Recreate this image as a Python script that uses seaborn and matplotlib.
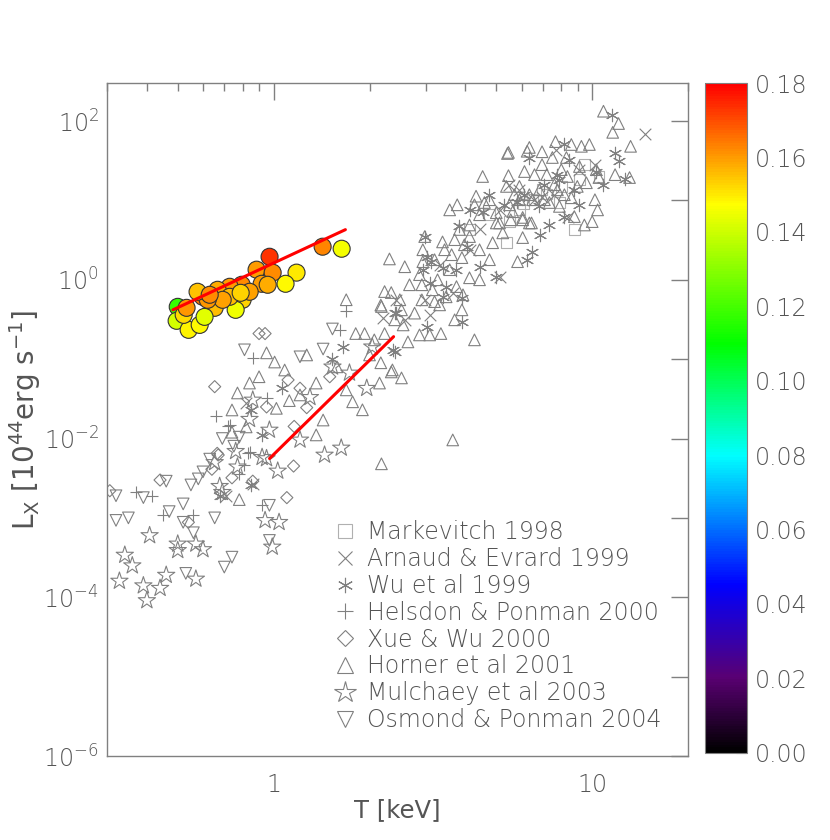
import numpy as np
import seaborn as sns
import matplotlib as mpl
from matplotlib import pyplot as plt
from matplotlib.colors import LinearSegmentedColormap, Normalize
from matplotlib.lines import Line2D

# ---- data (T in keV, Lx in 1e44 erg/s) ----
t_markevitch = [9.45, 9.12, 8.0, 7.89, 5.5, 5.38, 6.5, 6.96, 10.5, 5.91, 4.76, 4.12, 8.79, 7.2, 6.1]
l_markevitch = [28.2, 18.2, 15.0, 9.4, 5.4, 2.93, 10.2, 13.6, 20.0, 7.6, 6.6, 4.3, 4.3, 12.0, 9.0]

t_arnaud = [14.6, 8.4, 5.12, 6.96, 7.7, 2.2, 0.82, 0.86, 2.43, 3.09, 3.65, 5.91, 6.59, 7.61, 5.12,
            4.43, 5.5, 9.12, 10.2, 4.12, 3.32, 2.98, 2.58, 0.71]
l_arnaud = [67.7, 6.1, 1.09, 11.1, 43.7, 0.33, 0.028, 0.0027, 0.56, 0.361, 0.685, 13.6, 10.2, 11.8, 7.6,
            4.3, 15.8, 24.4, 28.2, 2.39, 1.55, 0.56, 0.313, 0.0019]

t_wu = [2.98, 3.03, 2.94, 3.13, 3.39, 3.09, 3.39, 3.9, 3.9, 3.02, 2.4, 2.4, 5.0, 6.23, 6.49, 3.83, 4.12,
        4.53, 4.05, 4.43, 3.75, 3.48, 1.65, 2.37, 1.52, 1.06, 0.85, 2.43, 0.92, 11.5, 11.8, 12.1, 12.7,
        10.8, 8.18, 6.35, 8.48, 9.12, 7.3, 6.88, 8.18, 7.78, 10.3, 5.8, 6.83, 6.13, 7.08, 7.89, 5.3,
        4.76, 8.79, 0.85, 0.677]
l_wu = [3.5, 1.95, 1.34, 1.69, 1.42, 0.92, 0.61, 0.59, 0.295, 0.255, 0.38, 0.123, 1.09, 1.79, 2.26, 4.7,
        7.6, 7.2, 2.6, 1.46, 1.34, 0.82, 0.143, 0.131, 0.1, 0.043, 0.0229, 0.38, 0.0111, 118, 40, 31,
        18.8, 15.8, 52, 34.7, 32.7, 8.8, 4.9, 3.7, 6.1, 21.1, 23.1, 9.6, 8.4, 11.8, 15.8, 18.2, 8.8,
        11.8, 13.6, 0.0026, 0.0019]

t_helsdon = [0.415, 0.45, 0.56, 0.72, 0.84, 0.81, 0.92, 0.86, 1.69, 0.83, 0.73, 1.61, 0.37, 0.95,
             0.78, 0.66]
l_helsdon = [0.0019, 0.00108, 0.0011, 0.0142, 0.0068, 0.0047, 0.00144, 0.103, 0.40, 0.0066, 0.0148,
             0.234, 0.0021, 0.032, 0.0036, 0.019]

t_xue = [0.44, 0.54, 0.67, 0.64, 1.10, 1.16, 1.155, 0.306, 0.90, 0.94, 0.653, 1.11, 1.21, 1.27, 1.50,
         0.95, 0.665, 0.74, 0.86]
l_xue = [0.003, 0.00088, 0.0062, 0.0041, 0.0018, 0.0142, 0.0045, 0.0022, 0.21, 0.21, 0.045, 0.0547,
         0.043, 0.0245, 0.06, 0.025, 0.0065, 0.0032, 0.0029]

t_horner = [0.95, 0.84, 0.77, 1.007, 1.083, 1.27, 1.81, 1.93, 2.17, 2.23, 2.17, 1.90, 1.77, 2.15, 2.34,
            1.36, 1.21, 1.43, 1.36, 2.18, 0.74, 1.02, 1.58, 1.69, 3.65, 0.78, 0.74, 1.69,
            2.31, 2.58, 2.98, 2.94, 2.94, 2.92, 2.92, 2.77, 2.87, 3.09, 3.35, 2.64, 4.27, 2.23, 2.34,
            2.18, 2.52, 2.55, 2.36, 2.52, 3.39, 3.57, 3.77, 4.27, 4.59, 5.0, 5.0, 6.05, 6.45, 5.83,
            3.62, 3.9, 4.12, 4.43, 3.75, 3.48, 3.2, 3.9, 3.93, 3.15, 3.27, 4.12, 3.7, 4.43, 4.87,
            4.76, 5.12, 5.55, 5.24,
            10.85, 12.1, 11.6, 13.2, 11.8, 13.1, 7.67, 8.6, 9.25, 9.8, 6.35, 6.96, 5.46, 7.5, 8.3,
            6.13, 5.46, 6.59, 7.2, 10.3, 10.5, 10.2, 10.4, 10.0, 9.45, 8.79, 6.05, 5.63, 6.35, 6.05,
            5.38, 5.91, 6.83, 7.78, 8.98, 8.36, 9.12, 7.34, 6.5, 7.89, 8.6, 9.59, 6.96, 8.0,
            5.42, 4.53, 4.32, 6.25, 5.91, 5.7, 6.35, 7.08, 7.61, 8.18, 5.5, 4.76, 4.43, 4.12, 3.83,
            3.97, 3.44, 3.2, 3.57, 2.87, 2.67, 2.49, 2.4, 3.32, 3.7, 2.07, 2.0, 0.82, 0.9, 1.12]
l_horner = [0.12, 0.05, 0.0375, 0.092, 0.073, 0.113, 0.21, 0.21, 0.48, 0.21, 0.09, 0.023, 0.029, 0.05,
            0.069, 0.05, 0.0354, 0.0171, 0.0111, 0.0048, 0.0229, 0.024, 0.08, 0.041, 0.0096, 0.0017,
            0.012, 0.56,
            1.83, 1.46, 3.5, 2.39, 1.69, 0.865, 0.559, 0.38, 0.202, 0.202, 0.21, 0.165, 0.175, 0.71,
            0.69, 0.46, 0.418, 0.27, 0.0732, 0.058, 3.0, 7.6, 8.8, 8.8, 9.4, 7.0, 5.2, 5.7, 5.2, 1.69,
            2.07, 1.9, 1.06, 1.0, 0.82, 0.61, 0.53, 0.418, 0.647, 0.748, 1.0, 3.5, 3.2, 2.39, 2.93,
            1.79, 5.2, 5.7, 3.9,
            133, 93, 72, 48, 21.1, 19.4, 55, 50.6, 48, 50.6, 46.5, 41, 40.2, 34.7, 34.7,
            23.1, 20.5, 21.1, 21.1, 24.4, 19.4, 10.2, 7.6, 5.4, 4.9, 6.25, 6.1, 7.2, 5.2, 3.4,
            15.0, 15.0, 13.6, 13.6, 15.0, 20.0, 26.7, 9.4, 10.2, 8.4, 10.8, 16.7, 28.2, 24.4,
            39.0, 20.0, 11.3, 41.6, 10.2, 11.8, 11.8, 10.2, 15.8, 11.8, 8.8, 10.2, 6.6, 4.9, 4.3,
            2.76, 2.39, 1.79, 1.34, 1.16, 0.865, 0.56, 0.313, 0.483, 0.313, 0.175, 0.113, 0.014, 0.06,
            0.03]

t_mulchaey = [0.408, 0.341, 0.36, 0.328, 0.39, 0.40, 0.44, 0.46, 0.50, 0.50, 0.57, 0.60, 0.57, 0.653,
              0.77, 0.94, 1.04, 0.99, 1.03, 0.69, 0.95, 2.04, 1.53, 1.445, 1.63, 1.21, 0.92, 0.86,
              0.97, 0.677, 1.30, 1.73, 1.96, 0.84, 0.76]
l_mulchaey = [0.0006, 0.00034, 0.00025, 0.00016, 0.00014, 0.000091, 0.00013, 0.00019, 0.00047, 0.00039,
              0.00047, 0.0004, 0.00017, 0.005, 0.0044, 0.00093, 0.00088, 0.00043, 0.0039, 0.0021, 0.0056,
              0.143, 0.08, 0.0062, 0.0076, 0.0096, 0.0058, 0.0306, 0.0128, 0.0025, 0.033, 0.067, 0.043,
              0.0175, 0.0069]

t_osmond = [0.32, 0.32, 0.35, 0.39, 0.47, 0.52, 0.52, 0.653, 0.56, 0.53, 0.70, 0.74, 0.97, 0.97, 0.46,
            0.58, 0.60, 0.69, 0.75, 0.81, 1.53, 1.21, 1.43, 0.78, 0.55, 0.63]
l_osmond = [0.0019, 0.00093, 0.001, 0.0018, 0.0012, 0.0015, 0.00088, 0.001, 0.00065, 0.0002, 0.00024,
            0.00032, 0.00052, 0.00144, 0.0029, 0.0031, 0.0038, 0.010, 0.008, 0.131, 0.24, 0.107, 0.134,
            0.0104, 0.0026, 0.0055]

# coloured groups: T, Lx and colour value
t_groups = [0.971, 1.425, 1.635, 1.18, 1.09, 0.884, 0.993, 0.917, 0.958, 0.794, 0.728, 0.799, 0.760,
            0.599, 0.653, 0.500, 0.496, 0.541, 0.586, 0.607, 0.522, 0.533, 0.667, 0.728, 0.692, 0.621,
            0.577, 0.841, 0.63, 0.788]
l_groups = [1.95, 2.61, 2.46, 1.23, 0.89, 1.34, 1.23, 0.89, 0.865, 0.865, 0.816, 0.559, 0.418, 0.61,
            0.443, 0.456, 0.304, 0.234, 0.27, 0.341, 0.361, 0.443, 0.748, 0.61, 0.559, 0.559, 0.706,
            0.706, 0.647, 0.685]
z_groups = [0.173, 0.163, 0.146, 0.150, 0.148, 0.160, 0.162, 0.160, 0.158, 0.162, 0.160, 0.153, 0.145,
            0.165, 0.156, 0.118, 0.141, 0.149, 0.148, 0.143, 0.152, 0.161, 0.158, 0.156, 0.159, 0.161,
            0.155, 0.159, 0.162, 0.153]

# fitted relations (end points)
fit_groups_t = [0.483, 1.68]
fit_groups_l = [0.418, 4.28]
fit_clusters_t = [0.971, 2.38]
fit_clusters_l = [0.0056, 0.192]

gray = '#808080'
txt = '#555555'

cmap = LinearSegmentedColormap.from_list('idl_rainbow', [
    (0.0, (0, 0, 0)),
    (0.111, (0.35, 0.0, 0.45)),
    (0.25, (0.0, 0.0, 1.0)),
    (0.444, (0.0, 1.0, 1.0)),
    (0.611, (0.0, 1.0, 0.0)),
    (0.82, (1.0, 1.0, 0.0)),
    (1.0, (1.0, 0.0, 0.0)),
])
norm = Normalize(0, 0.18)

sns.set_style('white')
plt.rcParams['font.family'] = ['DejaVu Sans']
plt.rcParams['font.weight'] = 'light'
plt.rcParams['mathtext.default'] = 'regular'

fig = plt.figure(figsize=(8.3, 8.4), dpi=100)
ax = fig.add_axes([0.129, 0.1, 0.700, 0.801])
cax = fig.add_axes([0.849, 0.104, 0.0506, 0.797])

open_kw = dict(facecolor='none', edgecolor=gray, linewidth=0.8, ax=ax, legend=False)
line_kw = dict(color=gray, linewidth=0.8, ax=ax, legend=False)

sns.scatterplot(x=t_markevitch, y=l_markevitch, marker='s', s=60, **dict(open_kw, edgecolor='#b0b0b0'))
sns.scatterplot(x=t_arnaud, y=l_arnaud, marker='x', s=70, **line_kw)
sns.scatterplot(x=t_wu, y=l_wu, marker=(6, 2, 0), s=80, **line_kw)
sns.scatterplot(x=t_helsdon, y=l_helsdon, marker='+', s=80, **line_kw)
sns.scatterplot(x=t_xue, y=l_xue, marker='D', s=38, **open_kw)
sns.scatterplot(x=t_horner, y=l_horner, marker='^', s=70, **open_kw)
sns.scatterplot(x=t_mulchaey, y=l_mulchaey, marker='*', s=170, **open_kw)
sns.scatterplot(x=t_osmond, y=l_osmond, marker='v', s=70, **open_kw)

sns.scatterplot(x=t_groups, y=l_groups, hue=z_groups, palette=cmap, hue_norm=norm, s=150,
                edgecolor='#333333', linewidth=0.8, legend=False, ax=ax, zorder=5)

sns.lineplot(x=fit_groups_t, y=fit_groups_l, color='red', linewidth=2.2, ax=ax, zorder=6)
sns.lineplot(x=fit_clusters_t, y=fit_clusters_l, color='red', linewidth=2.2, ax=ax, zorder=6)

ax.set_xscale('log')
ax.set_yscale('log')
ax.set_xlim(0.3, 20)
ax.set_ylim(1e-6, 300)
ax.set_xticks([1, 10], labels=['1', '10'])
ax.xaxis.set_minor_locator(mpl.ticker.LogLocator(base=10, subs=np.arange(2, 10)))
ax.xaxis.set_minor_formatter(mpl.ticker.NullFormatter())
ax.yaxis.set_major_locator(mpl.ticker.LogLocator(base=10, numticks=20))
ax.yaxis.set_major_formatter(mpl.ticker.FuncFormatter(
    lambda v, p: '' if round(np.log10(v)) % 2 else r'$10^{%d}$' % round(np.log10(v))))
ax.yaxis.set_minor_locator(mpl.ticker.NullLocator())

ax.tick_params(which='both', direction='in', top=True, right=True, colors=gray,
               labelcolor=txt, labelsize=17)
ax.tick_params(which='major', length=12, width=1)
ax.tick_params(which='minor', length=6, width=1)
ax.tick_params(axis='x', which='major', pad=12)
ax.tick_params(axis='y', which='major', pad=6)
for s in ax.spines.values():
    s.set_color(gray)
    s.set_linewidth(1)
ax.set_xlabel('T [keV]', fontsize=17.5, color=txt, labelpad=1)
ax.set_ylabel(r'L$_X$ [10$^{44}$erg s$^{-1}$]', fontsize=20, color=txt, labelpad=0)

handles = [
    Line2D([], [], ls='none', marker='s', ms=10, mfc='none', mec='#b0b0b0', mew=0.8),
    Line2D([], [], ls='none', marker='x', ms=10, color=gray, mew=0.8),
    Line2D([], [], ls='none', marker=(6, 2, 0), ms=11, color=gray, mew=0.8),
    Line2D([], [], ls='none', marker='+', ms=12, color=gray, mew=0.8),
    Line2D([], [], ls='none', marker='D', ms=8, mfc='none', mec=gray, mew=0.8),
    Line2D([], [], ls='none', marker='^', ms=11, mfc='none', mec=gray, mew=0.8),
    Line2D([], [], ls='none', marker='*', ms=16, mfc='none', mec=gray, mew=0.8),
    Line2D([], [], ls='none', marker='v', ms=11, mfc='none', mec=gray, mew=0.8),
]
labels = ['Markevitch 1998', 'Arnaud & Evrard 1999', 'Wu et al 1999', 'Helsdon & Ponman 2000',
          'Xue & Wu 2000', 'Horner et al 2001', 'Mulchaey et al 2003', 'Osmond & Ponman 2004']
ax.legend(handles, labels, loc='upper left', bbox_to_anchor=(0.36, 0.375), frameon=False,
          fontsize=17, labelcolor=txt, handlelength=1.0, handletextpad=0.45, labelspacing=0.12,
          borderpad=0.2)

sm = mpl.cm.ScalarMappable(norm=norm, cmap=cmap)
cb = fig.colorbar(sm, cax=cax, ticks=np.arange(0, 0.181, 0.02))
cb.ax.yaxis.set_minor_locator(mpl.ticker.MultipleLocator(0.01))
cb.ax.yaxis.set_major_formatter(mpl.ticker.FormatStrFormatter('%.2f'))
cb.ax.tick_params(which='both', direction='in', colors=gray, labelcolor=txt, labelsize=17)
cb.ax.tick_params(which='major', length=8, pad=6)
cb.ax.tick_params(which='minor', length=4)
cb.outline.set_edgecolor(gray)

fig.savefig('out.png', dpi=100)
